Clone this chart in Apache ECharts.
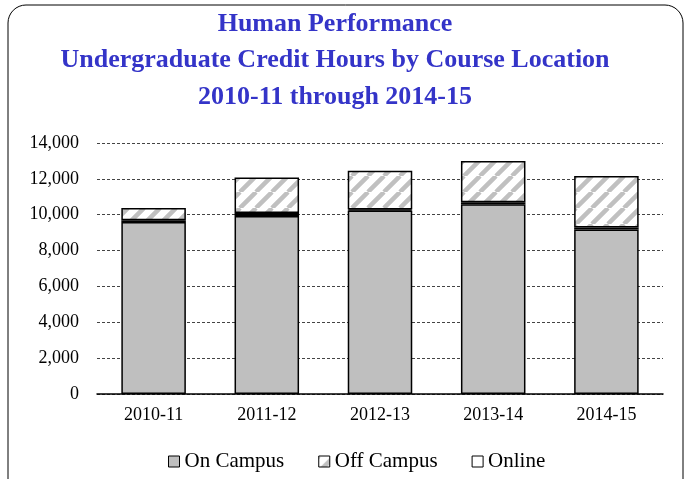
<!DOCTYPE html>
<html>
<head>
<meta charset="utf-8">
<script src="https://cdn.jsdelivr.net/npm/echarts@6/dist/echarts.min.js"></script>
<style>
  html, body { margin: 0; padding: 0; background: #fff; }
  #chart { width: 685px; height: 479px; }
</style>
</head>
<body>
<div id="chart"></div>
<script>
// data
const years = ['2010-11', '2011-12', '2012-13', '2013-14', '2014-15']
const onCampus = [9600, 9930, 10230, 10580, 9170]
const online = [90, 160, 60, 120, 120]
const offCampus = [680, 1990, 2160, 2300, 2870]

const serif = '"Liberation Serif", "Times New Roman", serif'

// diagonal hatch for Off Campus
const makeHatch = () => {
  const c = document.createElement('canvas')
  c.width = 16
  c.height = 16
  const ctx = c.getContext('2d')
  ctx.fillStyle = '#fff'
  ctx.fillRect(0, 0, 16, 16)
  ctx.strokeStyle = '#c0c0c0'
  ctx.lineWidth = 4.5
  ctx.beginPath()
  for (let k = -16; k <= 32; k += 16) {
    ctx.moveTo(k, 16)
    ctx.lineTo(k + 16, 0)
  }
  ctx.stroke()
  return c
}
const hatch = { image: makeHatch(), repeat: 'repeat' }

const chart = echarts.init(document.getElementById('chart'))

chart.setOption({
  animation: false,
  title: {
    text: 'Human Performance\nUndergraduate Credit Hours by Course Location\n2010-11 through 2014-15',
    left: 335,
    textAlign: 'center',
    top: 6,
    padding: 0,
    textStyle: {
      fontFamily: serif,
      fontSize: 26,
      fontWeight: 'bold',
      color: '#3434c8',
      lineHeight: 36.5
    }
  },
  graphic: [{
    type: 'rect',
    shape: { x: 8, y: 5, width: 675, height: 500, r: 18 },
    style: { fill: 'none', stroke: '#000', lineWidth: 1 },
    silent: true
  }],
  legend: {
    data: ['On Campus', 'Off Campus', 'Online'],
    top: 451,
    left: 168,
    padding: 0,
    itemWidth: 11,
    itemHeight: 11,
    itemGap: 34,
    icon: 'rect',
    itemStyle: { borderWidth: 1 },
    textStyle: { fontFamily: serif, fontSize: 21, color: '#000', padding: [0, 0, 0, 0] }
  },
  grid: { left: 97, right: 22, top: 143, bottom: 85 },
  xAxis: {
    type: 'category',
    data: years,
    axisLine: { lineStyle: { color: '#000', width: 1.5 } },
    axisTick: { show: false },
    axisLabel: { fontFamily: serif, fontSize: 18, color: '#000', margin: 12 }
  },
  yAxis: {
    type: 'value',
    min: 0,
    max: 14000,
    interval: 2000,
    axisLine: { show: false },
    axisTick: { show: false },
    axisLabel: {
      fontFamily: serif,
      fontSize: 18,
      color: '#000',
      margin: 18,
      formatter: v => v.toLocaleString('en-US')
    },
    splitLine: { lineStyle: { color: '#444', type: [3, 2], width: 1 } }
  },
  series: [
    {
      name: 'On Campus',
      type: 'bar',
      stack: 'total',
      data: onCampus,
      barWidth: '57%',
      itemStyle: { color: '#bfbfbf', borderColor: '#000', borderWidth: 1.5 }
    },
    {
      name: 'Online',
      type: 'bar',
      stack: 'total',
      data: online,
      itemStyle: { color: '#fff', borderColor: '#000', borderWidth: 1.5 }
    },
    {
      name: 'Off Campus',
      type: 'bar',
      stack: 'total',
      data: offCampus,
      itemStyle: { color: hatch, borderColor: '#000', borderWidth: 1.5 }
    }
  ]
})
</script>
</body>
</html>
